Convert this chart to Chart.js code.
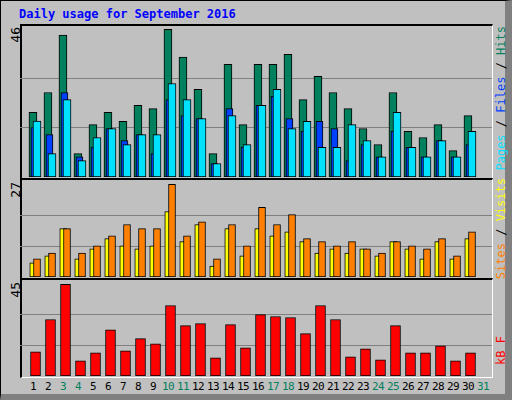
<!DOCTYPE html>
<html><head><meta charset="utf-8">
<script src="https://cdn.jsdelivr.net/npm/chart.js@4/dist/chart.umd.min.js"></script>
<style>
body{margin:0;width:512px;height:400px;background:#c0c0c0;position:relative;overflow:hidden;font-family:"DejaVu Sans Mono",monospace}
#frame{position:absolute;left:0;top:0;width:504px;height:393px;border:1px solid #000;border-right:7px solid #808080;border-bottom:6px solid #808080;box-sizing:content-box}
.panel{position:absolute;left:20px;width:470px;border-top:2px solid #000;border-left:2px solid #000;border-right:1px solid #fff;border-bottom:1px solid #fff;background:#c0c0c0}
canvas{position:absolute}
.vt{position:absolute;writing-mode:vertical-rl;transform:rotate(180deg);font-size:12px;white-space:nowrap}
#title{position:absolute;left:19px;top:7px;color:#0000ff;font-weight:bold;font-size:12px}
#xl{position:absolute;top:380px;left:0;width:512px;height:14px;font-size:11px;letter-spacing:-0.5px}
#xl span{position:absolute;transform:translateX(-50%)}
</style></head><body>
<div id="frame"></div>
<div id="title">Daily usage for September 2016</div>
<div class="panel" style="top:24px;height:152px"></div>
<div class="panel" style="top:178px;height:98px"></div>
<div class="panel" style="top:278px;height:97px"></div>
<div class="vt" style="left:8px;top:27px;font-size:13px">46</div>
<div class="vt" style="left:8px;top:182px;font-size:13px">27</div>
<div class="vt" style="left:8px;top:282px;font-size:13px">45</div>
<div class="vt" style="left:494px;top:26px"><span style="color:#00e0ff">Pages</span><span style="color:#000"> / </span><span style="color:#0040ff">Files</span><span style="color:#000"> / </span><span style="color:#00805c">Hits</span></div>
<div class="vt" style="left:494px;top:178px"><span style="color:#ff8000">Sites</span><span style="color:#000"> / </span><span style="color:#ffff00">Visits</span></div>
<div class="vt" style="left:494px;top:336px"><span style="color:#ff0000">kB F</span></div>
<div id="xl"></div>
<canvas id="c1"></canvas><canvas id="c2"></canvas><canvas id="c3"></canvas>
<script>
const days=[1,2,3,4,5,6,7,8,9,10,11,12,13,14,15,16,17,18,19,20,21,22,23,24,25,26,27,28,29,30];
const dayLabels=["1","2","3","4","5","6","7","8","9","10","11","12","13","14","15","16","17","18","19","20","21","22","23","24","25","26","27","28","29","30","31"];
const weekend=[3,4,10,11,17,18,24,25,31];
const hits=[20.1,26.3,44.2,7.3,16.3,20.1,17.3,22.3,21.3,46,37.3,27.3,7.3,35.1,16.3,35.1,35.1,38.2,24.1,31.3,26.3,21.3,15.1,10.1,26.3,14.2,12.3,16.3,8.2,19.1];
const files=[15.4,13.2,26.3,6.3,9.3,15.1,11.3,13.2,7.3,24.1,19.1,18.2,4.2,21.3,9.3,22.3,25.1,18.2,14.2,17.3,15.1,5.1,10.1,6.3,14.2,9.2,6.3,11.3,6.3,10.1];
const pages=[17.4,7.3,24.1,5.1,12.3,15.1,10.1,13.2,13.2,29.1,24.1,18.2,4.2,19.1,10.1,22.3,27.3,15.1,17.3,9.2,9.2,16.3,11.3,6.3,20.1,9.2,6.3,11.3,6.3,14.2];
const visits=[4.1,6.2,14.1,5.3,8.2,11.2,9.1,8.2,9.1,19.1,10.3,15.3,3.2,14.1,6.2,14.1,12.0,13.2,10.3,7.0,8.2,7.0,8.2,6.2,10.3,8.2,5.3,10.3,5.3,11.2];
const sites=[5.3,7.0,14.1,7.0,9.1,12.0,15.3,14.1,14.1,27,12.0,16.1,5.3,15.3,9.1,20.3,15.3,18.2,11.2,10.3,9.1,10.3,8.2,7.0,10.3,9.1,8.2,11.2,6.2,13.2];
const kbytes=[11.9,27.7,45,7.4,11.4,22.7,12.4,18.3,15.8,34.6,24.7,25.7,8.9,25.2,13.8,30.1,29.2,28.7,20.8,34.6,27.7,9.4,13.3,7.9,24.7,11.4,11.4,14.8,7.4,11.4];

const xl=document.getElementById('xl');
dayLabels.forEach((l,i)=>{const s=document.createElement('span');s.textContent=l;s.style.left=(33+15*i)+'px';s.style.color=weekend.includes(i+1)?'#00805c':'#000';xl.appendChild(s);});

function pts(arr,off){return arr.map((v,i)=>({x:days[i]+off,y:v}));}
function ds(arr,off,color,order,w){return {data:pts(arr,off),backgroundColor:color,borderColor:'#000',borderWidth:1,borderSkipped:false,barThickness:w,order:order,grouped:false};}
function make(id,top,h,max,grid,sets){
  const c=document.getElementById(id);
  c.width=472;c.height=h;
  c.style.left='20px';c.style.top=top+'px';c.style.width='472px';c.style.height=h+'px';
  new Chart(c,{type:'bar',data:{datasets:sets},options:{responsive:false,animation:false,devicePixelRatio:1,
    layout:{padding:0},plugins:{legend:{display:false},tooltip:{enabled:false}},
    scales:{x:{type:'linear',min:-2/15,max:(472-2)/15,display:false,offset:false},
      y:{min:0,max:max,afterFit:s=>{s.width=0;},afterBuildTicks:s=>{s.ticks=[{value:grid},{value:grid*2}];},
        ticks:{display:false},border:{display:false},grid:{color:'#808080',lineWidth:1,drawTicks:false}}}}});
}
make('c1',26,151,47.0,46/3,[ds(hits,-0.27,'#00805c',3,8),ds(files,-0.17,'#0040ff',2,7),ds(pages,0,'#00e0ff',1,8)]);
make('c2',181,96,28.0,9,[ds(visits,-0.25,'#ffff00',2,7),ds(sites,0,'#ff8000',1,7)]);
make('c3',281,95,46.6,15,[ds(kbytes,-0.1,'#ff0000',1,10)]);
</script></body></html>
